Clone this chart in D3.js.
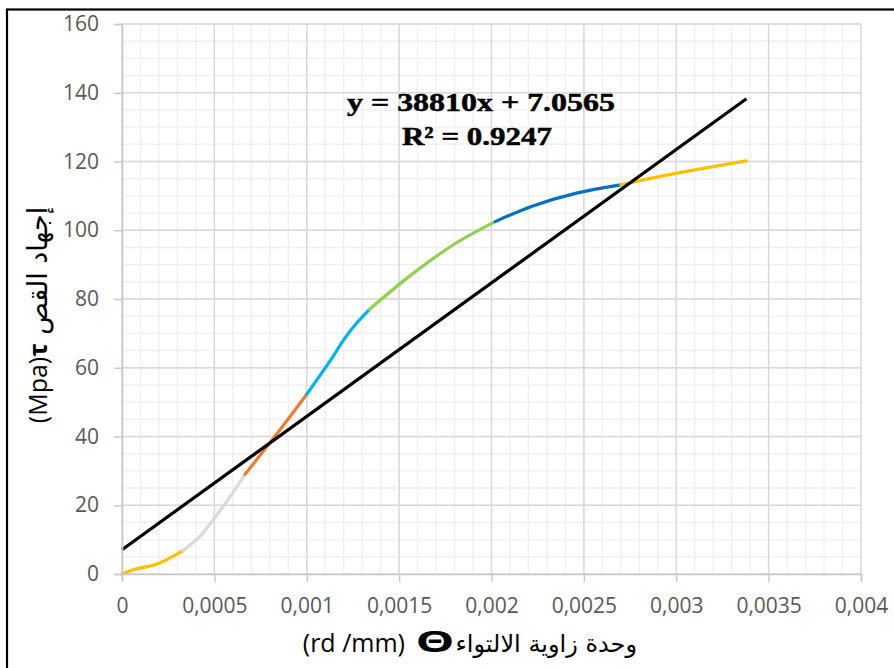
<!DOCTYPE html>
<html>
<head>
<meta charset="utf-8">
<script src="https://cdn.jsdelivr.net/npm/d3@7"></script>
<style>
  body { margin: 0; background: #fff; }
  svg { display: block; }
</style>
</head>
<body>
<svg id="chart" width="894" height="668"></svg>
<script>
// readings: [theta, tau]
var yellowLow  = [[0, 0], [0.00006, 1.25], [0.00019, 2.9], [0.00033, 6.8]]
var greyPart   = [[0.00033, 6.8], [0.00042, 10.9], [0.0005, 16.2], [0.000585, 22.5], [0.000666, 29.0]]
var orangePart = [[0.000666, 29.0], [0.00083, 40.2], [0.001, 52.3]]
var cyanPart   = [[0.001, 52.3], [0.00113, 62.3], [0.0012, 68.1], [0.00127, 73.0], [0.00134, 77.0]]
var greenPart  = [[0.00134, 77.0], [0.00156, 86.8], [0.0018, 96.0], [0.00202, 102.5]]
var bluePart   = [[0.00202, 102.5], [0.00222, 107.0], [0.00246, 110.8], [0.0027, 113.2]]
var yellowHigh = [[0.0027, 113.2], [0.00286, 115.1], [0.00304, 117.0], [0.00338, 120.2]]

var segColors = ["#FFC000", "#D9D9D9", "#ED7D31", "#00B0F0", "#92D050", "#0070C0", "#FFC000"]

// linear trendline as printed on the chart
var trendSlope = 38810
var trendIntercept = 7.0565
var trendRange = [0, 0.00338]

var xTickValues = [0, 0.0005, 0.001, 0.0015, 0.002, 0.0025, 0.003, 0.0035, 0.004]
var xTickLabels = ["0", "0,0005", "0,001", "0,0015", "0,002", "0,0025", "0,003", "0,0035", "0,004"]
var yTickValues = [0, 20, 40, 60, 80, 100, 120, 140, 160]

var svg = d3.select("#chart")

var xScale = d3.scaleLinear().domain([0, 0.004]).range([122, 861])
var yScale = d3.scaleLinear().domain([0, 160]).range([574, 24])

var drawGrid = function() {
    var grid = svg.append("g")
    // minor grid
    grid.selectAll("vMinor").data(xScale.ticks(40)).enter().append("line")
        .attr("x1", function(d){ return xScale(d) }).attr("x2", function(d){ return xScale(d) })
        .attr("y1", yScale(0)).attr("y2", yScale(160))
        .attr("stroke", "#F0F0F0").attr("stroke-width", 1.4)
    grid.selectAll("hMinor").data(yScale.ticks(40)).enter().append("line")
        .attr("y1", function(d){ return yScale(d) }).attr("y2", function(d){ return yScale(d) })
        .attr("x1", xScale(0)).attr("x2", xScale(0.004))
        .attr("stroke", "#F0F0F0").attr("stroke-width", 1.4)
    // major grid
    grid.selectAll("vMajor").data(xTickValues).enter().append("line")
        .attr("x1", function(d){ return xScale(d) }).attr("x2", function(d){ return xScale(d) })
        .attr("y1", yScale(0)).attr("y2", yScale(160))
        .attr("stroke", "#D9D9D9").attr("stroke-width", 1.4)
    grid.selectAll("hMajor").data(yTickValues).enter().append("line")
        .attr("y1", function(d){ return yScale(d) }).attr("y2", function(d){ return yScale(d) })
        .attr("x1", xScale(0)).attr("x2", xScale(0.004))
        .attr("stroke", "#D9D9D9").attr("stroke-width", 1.4)
}

var drawAxes = function() {
    var xAxis = d3.axisBottom(xScale)
        .tickValues(xTickValues)
        .tickFormat(function(d, i){ return xTickLabels[i] })
        .tickSize(8).tickPadding(16)
    var gx = svg.append("g").attr("transform", "translate(0," + yScale(0) + ")").call(xAxis)

    var yAxis = d3.axisLeft(yScale)
        .tickValues(yTickValues)
        .tickSize(8).tickPadding(15)
    var gy = svg.append("g").attr("transform", "translate(" + xScale(0) + ",0)").call(yAxis)

    ;[gx, gy].forEach(function(g) {
        g.select(".domain").attr("stroke", "#C8C8C8").attr("stroke-width", 1.6)
        g.selectAll(".tick line").attr("stroke", "#C8C8C8").attr("stroke-width", 1.4)
        g.selectAll(".tick text")
            .attr("fill", "#595959")
            .style("font-family", "'Open Sans', sans-serif")
            .style("font-size", "21px")
    })
}

var drawSeries = function() {
    var line = d3.line()
        .x(function(d){ return xScale(d[0]) })
        .y(function(d){ return yScale(d[1]) })
        .curve(d3.curveCatmullRom)
    var segs = [yellowLow, greyPart, orangePart, cyanPart, greenPart, bluePart, yellowHigh]
    svg.selectAll("segLines")
        .data(segs)
        .enter()
        .append("path")
          .attr("d", function(d){ return line(d) })
          .attr("stroke", function(d, i){ return segColors[i] })
          .attr("stroke-width", 3.2)
          .attr("stroke-linecap", "round")
          .attr("fill", "none")

    // trendline
    var trendPts = trendRange.map(function(x){ return [x, trendSlope * x + trendIntercept] })
    svg.append("path")
        .attr("d", d3.line().x(function(d){ return xScale(d[0]) }).y(function(d){ return yScale(d[1]) })(trendPts))
        .attr("stroke", "#000")
        .attr("stroke-width", 3.2)
        .attr("fill", "none")
}

var drawLabels = function() {
    // trendline equation
    svg.append("text")
        .attr("x", 481).attr("y", 110.5)
        .attr("text-anchor", "middle")
        .attr("textLength", 268).attr("lengthAdjust", "spacingAndGlyphs")
        .style("font-family", "'Liberation Serif', 'Times New Roman', serif")
        .style("font-weight", "bold").style("font-size", "26px")
        .attr("stroke", "#000").attr("stroke-width", 0.5)
        .text("y = " + trendSlope + "x + " + trendIntercept)
    svg.append("text")
        .attr("x", 477).attr("y", 145)
        .attr("text-anchor", "middle")
        .attr("textLength", 150).attr("lengthAdjust", "spacingAndGlyphs")
        .style("font-family", "'Liberation Serif', 'Times New Roman', serif")
        .style("font-weight", "bold").style("font-size", "26px")
        .attr("stroke", "#000").attr("stroke-width", 0.5)
        .text("R² = 0.9247")

    // x title, in three pieces
    svg.append("text")
        .attr("x", 405).attr("y", 652)
        .attr("text-anchor", "end")
        .style("font-family", "'Open Sans', sans-serif").style("font-size", "25px")
        .attr("fill", "#000")
        .text("(rd /mm)")
    svg.append("text")
        .attr("transform", "translate(435,652) scale(1.75,1)")
        .attr("text-anchor", "middle")
        .style("font-family", "'Open Sans', sans-serif").style("font-size", "28px")
        .style("font-weight", "bold")
        .text("Θ")
    svg.append("text")
        .attr("x", 637).attr("y", 652)
        .attr("text-anchor", "end")
        .attr("direction", "ltr")
        .style("font-family", "'DejaVu Sans', sans-serif").style("font-size", "24px")
        .text("وحدة زاوية الالتواء")

    // y title
    var yt = svg.append("text")
        .attr("transform", "translate(47,315) rotate(-90)")
        .attr("text-anchor", "middle")
        .attr("direction", "ltr")
        .style("font-family", "'Open Sans', 'DejaVu Sans', sans-serif").style("font-size", "25px")
    yt.append("tspan").text("(Mpa)")
    yt.append("tspan").style("font-weight", "bold").text("τ")
    yt.append("tspan").style("font-family", "'DejaVu Sans', sans-serif").style("font-size", "27px").text(" إجهاد القص")

    // outer frame
    svg.append("rect")
        .attr("x", 7).attr("y", 9.5)
        .attr("width", 900).attr("height", 700)
        .attr("fill", "none").attr("stroke", "#000").attr("stroke-width", 2.2)
}

drawGrid()
drawSeries()
drawAxes()
drawLabels()
</script>
</body>
</html>
